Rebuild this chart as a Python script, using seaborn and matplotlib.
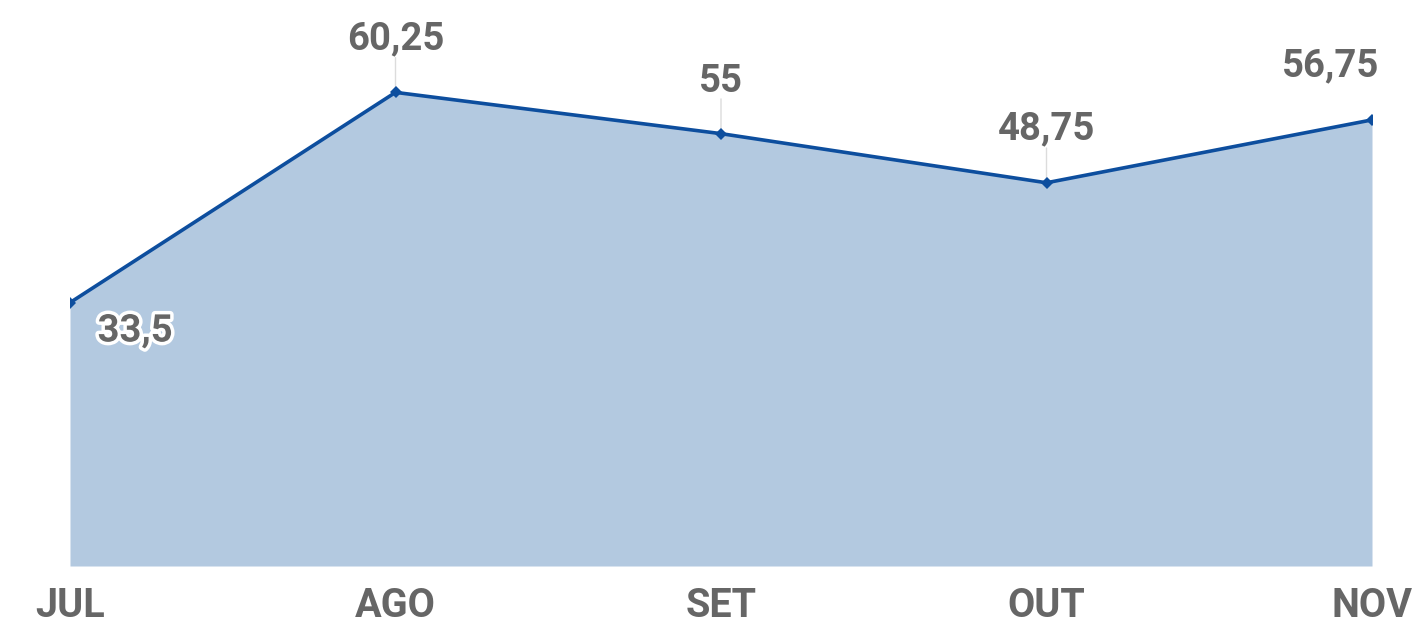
import matplotlib
matplotlib.use("Agg")
import matplotlib.pyplot as plt
import matplotlib.patheffects as pe
import seaborn as sns
import pandas as pd

# dados
meses = ['JUL', 'AGO', 'SET', 'OUT', 'NOV']
valores = [33.5, 60.25, 55, 48.75, 56.75]
rotulos = ['33,5', '60,25', '55', '48,75', '56,75']

df = pd.DataFrame({'pos': range(len(meses)), 'valor': valores})

sns.set_style('white')
plt.rcParams['font.family'] = ['Roboto', 'DejaVu Sans']

azul = '#0d4e9e'
preench = '#b3c9e0'
cinza = '#666666'

fig = plt.figure(figsize=(14.19, 6.27), dpi=100)
ax = fig.add_axes([70 / 1419, 1 - 566 / 627, 1302 / 1419, 566 / 627])

ax.fill_between(df['pos'], df['valor'], 0, color=preench, lw=0)
sns.lineplot(data=df, x='pos', y='valor', ax=ax, color=azul, lw=2.6,
             marker='D', markersize=6.5, markeredgewidth=0)

ax.set_xlim(0, len(meses) - 1)
ax.set_ylim(0, 72)
ax.set_yticks([])
ax.set_xticks(range(len(meses)))
ax.set_xticklabels(meses)
ax.tick_params(axis='x', length=0, pad=15, labelsize=28.5, labelcolor=cinza)
for t in ax.get_xticklabels():
    t.set_fontweight('bold')
ax.set_xlabel('')
ax.set_ylabel('')
sns.despine(ax=ax, left=True, bottom=True)

# rotulos dos pontos
offsets = [(47, -28), (0, 31), (0, 30), (0, 31), (-30, 31)]
for i, (v, r) in enumerate(zip(valores, rotulos)):
    dx, dy = offsets[i]
    if i == 0:
        ax.annotate(r, (i, v), xytext=(dx, dy), textcoords='offset points',
                    ha='center', va='baseline', fontsize=27.5, color=cinza,
                    fontweight='bold', annotation_clip=False,
                    path_effects=[pe.withStroke(linewidth=5, foreground='white')])
    else:
        if i < len(meses) - 1:
            ax.annotate('', (i, v), xytext=(0, 25), textcoords='offset points',
                        arrowprops=dict(arrowstyle='-', color='#dcdcdc', lw=1,
                                        shrinkA=0, shrinkB=0), zorder=1)
        ax.annotate(r, (i, v), xytext=(dx, dy), textcoords='offset points',
                    ha='center', va='baseline', fontsize=27.5, color=cinza,
                    fontweight='bold', annotation_clip=False)

fig.savefig('out.png', dpi=100)
